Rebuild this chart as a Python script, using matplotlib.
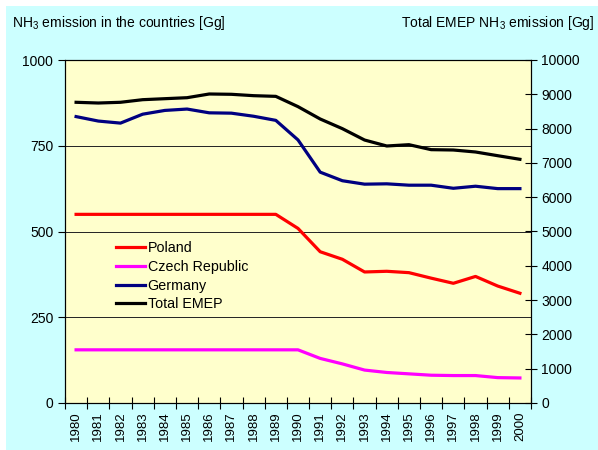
import matplotlib
matplotlib.use("Agg")
import matplotlib.pyplot as plt
from matplotlib.patches import Rectangle

plt.rcParams['font.family'] = ['Liberation Sans', 'DejaVu Sans']
plt.rcParams['mathtext.default'] = 'regular'

years = [str(y) for y in range(1980, 2001)]

poland = [550, 550, 550, 550, 550, 550, 550, 550, 550, 550, 509,
          441, 419, 382, 384, 380, 364, 349, 369, 341, 320]
czech = [155, 155, 155, 155, 155, 155, 155, 155, 155, 155, 155,
         130, 114, 96, 89, 85, 81, 80, 80, 74, 73]
germany = [835, 822, 816, 842, 853, 857, 846, 845, 836, 824, 767,
           673, 648, 638, 639, 635, 635, 626, 632, 625, 625]
total_emep = [8767, 8746, 8767, 8843, 8872, 8901, 9009, 9000, 8960, 8940, 8640,
              8280, 7998, 7667, 7493, 7531, 7386, 7376, 7318, 7210, 7105]

fig = plt.figure(figsize=(5.98, 4.5), dpi=100)
fig.patch.set_facecolor('white')
fig.patches.append(Rectangle((6 / 598, 0), 592 / 598, 444 / 450,
                             transform=fig.transFigure, facecolor='#CCFFFF',
                             edgecolor='none', zorder=-10))

ax = fig.add_axes([65 / 598, 1 - 403 / 450, 466 / 598, 343 / 450])
ax.set_facecolor('#FFFFCC')
ax2 = ax.twinx()

x = list(range(len(years)))
l1, = ax.plot(x, poland, color='#FF0000', lw=2.3, label='Poland')
l2, = ax.plot(x, czech, color='#FF00FF', lw=2.3, label='Czech Republic')
l3, = ax.plot(x, germany, color='#000080', lw=2.3, label='Germany')
l4, = ax2.plot(x, total_emep, color='black', lw=2.3, label='Total EMEP')

ax.set_xlim(-0.5, len(years) - 0.5)
ax.set_ylim(0, 1000)
ax2.set_ylim(0, 10000)
ax.set_yticks([0, 250, 500, 750, 1000])
ax2.set_yticks(range(0, 10001, 1000))
ax.yaxis.grid(True, color='#222222', lw=0.7)
ax.set_axisbelow(True)

ax.set_xticks(x)
ax.set_xticklabels(years, rotation=90, fontsize=9.5)
ax.set_xticks([i - 0.5 for i in range(len(years) + 1)], minor=True)
ax.tick_params(axis='x', which='major', length=0, pad=6)
ax.tick_params(axis='x', which='minor', direction='inout', length=8, width=0.8)
ax.tick_params(axis='y', direction='out', length=5, width=0.8, labelsize=10)
ax2.tick_params(axis='y', direction='inout', length=8, width=0.8, labelsize=10)

for a in (ax, ax2):
    for s in a.spines.values():
        s.set_linewidth(0.8)
        s.set_color('black')

ax.legend(handles=[l1, l2, l3, l4], loc='upper left', bbox_to_anchor=(0.11, 0.472),
          frameon=False, fontsize=10.3, handlelength=2.0, handletextpad=0.2,
          labelspacing=0.33, borderpad=0, borderaxespad=0)

fig.text(12 / 598, 1 - 23 / 450, 'NH$_3$ emission in the countries [Gg]',
         fontsize=10, ha='left', va='center')
fig.text(594 / 598, 1 - 23 / 450, 'Total EMEP NH$_3$ emission [Gg]',
         fontsize=10, ha='right', va='center')

fig.savefig('out.png', dpi=100)
